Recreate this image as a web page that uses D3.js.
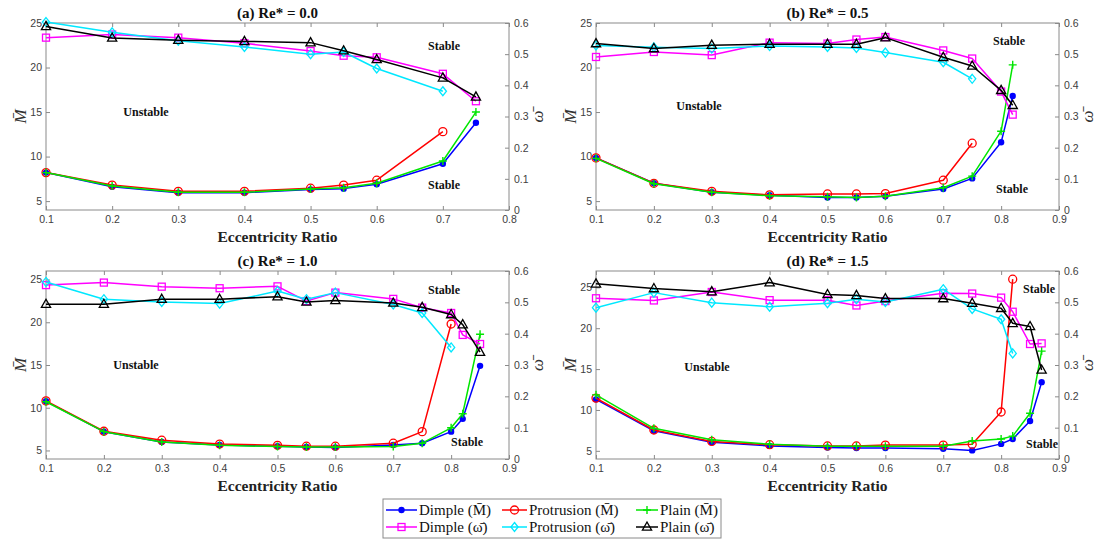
<!DOCTYPE html>
<html>
<head>
<meta charset="utf-8">
<script src="https://cdn.jsdelivr.net/npm/d3@7"></script>
<style>
  body { margin: 0; background: #fff; }
  svg { display: block; }
  .tick text { font-family: "Liberation Sans", Arial, sans-serif; font-size: 10.5px; fill: #404040; }
  .tick line { stroke: #8a8a8a; }
</style>
</head>
<body>
<svg id="fig" width="1102" height="540"></svg>
<script>
// ---- Eccentricity ratios (x) for each Reynolds number case ----
const eccA = [0.1, 0.2, 0.3, 0.4, 0.5, 0.55, 0.6, 0.7, 0.75];
const eccAPro = [0.1, 0.2, 0.3, 0.4, 0.5, 0.55, 0.6, 0.7];
const eccB = [0.1, 0.2, 0.3, 0.4, 0.5, 0.55, 0.6, 0.7, 0.75, 0.8, 0.82];
const eccBPro = [0.1, 0.2, 0.3, 0.4, 0.5, 0.55, 0.6, 0.7, 0.75];
const eccC = [0.1, 0.2, 0.3, 0.4, 0.5, 0.55, 0.6, 0.7, 0.75, 0.8, 0.82, 0.85];
const eccCPro = [0.1, 0.2, 0.3, 0.4, 0.5, 0.55, 0.6, 0.7, 0.75, 0.8];
const eccD = [0.1, 0.2, 0.3, 0.4, 0.5, 0.55, 0.6, 0.7, 0.75, 0.8, 0.82, 0.85, 0.87];
const eccDPro = [0.1, 0.2, 0.3, 0.4, 0.5, 0.55, 0.6, 0.7, 0.75, 0.8, 0.82];

// ---- Critical mass (M bar), left axis ----
const dimpleM_A = [8.2, 6.6, 5.95, 5.95, 6.3, 6.4, 6.9, 9.2, 13.8];
const protM_A   = [8.2, 6.8, 6.1, 6.1, 6.45, 6.8, 7.35, 12.8];
const plainM_A  = [8.2, 6.7, 6.0, 6.0, 6.35, 6.5, 7.0, 9.5, 15.0];

const dimpleM_B = [9.85, 7.0, 6.0, 5.65, 5.4, 5.4, 5.55, 6.35, 7.55, 11.6, 16.8];
const protM_B   = [9.85, 7.0, 6.1, 5.7, 5.8, 5.8, 5.85, 7.35, 11.5];
const plainM_B  = [9.8, 6.95, 6.0, 5.6, 5.5, 5.4, 5.55, 6.5, 7.8, 12.85, 20.3];

const dimpleM_C = [10.75, 7.2, 6.0, 5.65, 5.5, 5.4, 5.35, 5.65, 5.85, 7.2, 8.7, 14.9];
const protM_C   = [10.8, 7.25, 6.2, 5.75, 5.6, 5.5, 5.5, 5.85, 7.2, 19.8];
const plainM_C  = [10.7, 7.2, 6.0, 5.6, 5.45, 5.4, 5.4, 5.45, 5.85, 7.65, 9.3, 18.6];

const dimpleM_D = [11.3, 7.45, 6.05, 5.6, 5.4, 5.35, 5.35, 5.25, 5.05, 5.85, 6.45, 8.65, 13.4];
const protM_D   = [11.45, 7.55, 6.15, 5.75, 5.6, 5.6, 5.7, 5.7, 5.8, 9.75, 26.0];
const plainM_D  = [11.85, 7.75, 6.35, 5.8, 5.55, 5.55, 5.55, 5.55, 6.2, 6.45, 6.8, 9.6, 17.2];

// ---- Whirl frequency ratio (omega bar), right axis ----
const dimpleW_A = [0.553, 0.563, 0.553, 0.535, 0.510, 0.495, 0.490, 0.437, 0.349];
const protW_A   = [0.603, 0.570, 0.543, 0.523, 0.500, 0.507, 0.454, 0.381];
const plainW_A  = [0.589, 0.552, 0.545, 0.541, 0.537, 0.511, 0.483, 0.424, 0.363];

const dimpleW_B = [0.491, 0.507, 0.497, 0.537, 0.534, 0.547, 0.555, 0.512, 0.486, 0.380, 0.306];
const protW_B   = [0.528, 0.522, 0.518, 0.526, 0.523, 0.520, 0.505, 0.474, 0.421];
const plainW_B  = [0.534, 0.518, 0.529, 0.532, 0.532, 0.532, 0.553, 0.490, 0.462, 0.384, 0.336];

const dimpleW_C = [0.555, 0.563, 0.550, 0.545, 0.551, 0.504, 0.531, 0.511, 0.483, 0.466, 0.396, 0.367];
const protW_C   = [0.565, 0.510, 0.501, 0.496, 0.536, 0.510, 0.531, 0.493, 0.466, 0.356];
const plainW_C  = [0.494, 0.494, 0.510, 0.510, 0.518, 0.501, 0.506, 0.498, 0.484, 0.461, 0.429, 0.341];

const dimpleW_D = [0.513, 0.506, 0.533, 0.507, 0.507, 0.490, 0.504, 0.529, 0.528, 0.515, 0.470, 0.367, 0.369];
const protW_D   = [0.483, 0.531, 0.499, 0.486, 0.497, 0.510, 0.501, 0.542, 0.479, 0.446, 0.337];
const plainW_D  = [0.559, 0.544, 0.534, 0.563, 0.525, 0.522, 0.512, 0.512, 0.497, 0.481, 0.433, 0.423, 0.284];

// ---- Tick labels ----
const xTicksShort = [0.1, 0.2, 0.3, 0.4, 0.5, 0.6, 0.7, 0.8];
const xTicksLong  = [0.1, 0.2, 0.3, 0.4, 0.5, 0.6, 0.7, 0.8, 0.9];
const mTicks = [5, 10, 15, 20, 25];
const wTicks = [0, 0.1, 0.2, 0.3, 0.4, 0.5, 0.6];

const titles = ["(a) Re* = 0.0", "(b) Re* = 0.5", "(c) Re* = 1.0", "(d) Re* = 1.5"];
const seriesNames = ["Dimple (M̄)", "Protrusion (M̄)", "Plain (M̄)", "Dimple (ω̄)", "Protrusion (ω̄)", "Plain (ω̄)"];

// ---- Styles ----
const styles = {
  dimpleM: { color: "#0000ff", marker: "dot" },
  protM:   { color: "#ff0000", marker: "circle" },
  plainM:  { color: "#00e600", marker: "plus" },
  dimpleW: { color: "#ff00ff", marker: "square" },
  protW:   { color: "#00e8ff", marker: "diamond" },
  plainW:  { color: "#000000", marker: "triangle" }
};

const panels = [
  { title: titles[0], box: [46, 509, 23, 210], xDom: [0.1, 0.8], xTicks: xTicksShort, mDom: [4, 25],
    M: [[eccA, dimpleM_A, "dimpleM"], [eccAPro, protM_A, "protM"], [eccA, plainM_A, "plainM"]],
    W: [[eccA, dimpleW_A, "dimpleW"], [eccAPro, protW_A, "protW"], [eccA, plainW_A, "plainW"]],
    notes: [["Unstable", 146, 112], ["Stable", 444, 46], ["Stable", 444, 185]] },
  { title: titles[1], box: [596, 1059, 23, 210], xDom: [0.1, 0.9], xTicks: xTicksLong, mDom: [4, 25],
    M: [[eccB, dimpleM_B, "dimpleM"], [eccBPro, protM_B, "protM"], [eccB, plainM_B, "plainM"]],
    W: [[eccB, dimpleW_B, "dimpleW"], [eccBPro, protW_B, "protW"], [eccB, plainW_B, "plainW"]],
    notes: [["Unstable", 699, 106], ["Stable", 1009, 41], ["Stable", 1012, 189]] },
  { title: titles[2], box: [46, 509, 271, 459], xDom: [0.1, 0.9], xTicks: xTicksLong, mDom: [4, 26],
    M: [[eccC, dimpleM_C, "dimpleM"], [eccCPro, protM_C, "protM"], [eccC, plainM_C, "plainM"]],
    W: [[eccC, dimpleW_C, "dimpleW"], [eccCPro, protW_C, "protW"], [eccC, plainW_C, "plainW"]],
    notes: [["Unstable", 136, 365], ["Stable", 444, 290], ["Stable", 467, 442]] },
  { title: titles[3], box: [596, 1059, 271, 459], xDom: [0.1, 0.9], xTicks: xTicksLong, mDom: [4, 27],
    M: [[eccD, dimpleM_D, "dimpleM"], [eccDPro, protM_D, "protM"], [eccD, plainM_D, "plainM"]],
    W: [[eccD, dimpleW_D, "dimpleW"], [eccDPro, protW_D, "protW"], [eccD, plainW_D, "plainW"]],
    notes: [["Unstable", 707, 367], ["Stable", 1039, 289], ["Stable", 1042, 444]] }
];

const svg = d3.select("#fig");
svg.append("rect").attr("width", 1102).attr("height", 540).attr("fill", "#fff");

const SERIF = "'Liberation Serif', 'Times New Roman', serif";

function drawMarker(g, type, color, cx, cy) {
  switch (type) {
    case "dot":
      g.append("circle").attr("cx", cx).attr("cy", cy).attr("r", 3.2).attr("fill", color);
      break;
    case "circle":
      g.append("circle").attr("cx", cx).attr("cy", cy).attr("r", 4).attr("fill", "none")
        .attr("stroke", color).attr("stroke-width", 1.3);
      break;
    case "plus":
      g.append("path").attr("d", `M${cx - 4},${cy}H${cx + 4}M${cx},${cy - 4}V${cy + 4}`)
        .attr("stroke", color).attr("stroke-width", 1.4);
      break;
    case "square":
      g.append("rect").attr("x", cx - 3.5).attr("y", cy - 3.5).attr("width", 7).attr("height", 7)
        .attr("fill", "none").attr("stroke", color).attr("stroke-width", 1.3);
      break;
    case "diamond":
      g.append("path").attr("d", `M${cx},${cy - 4.5}L${cx + 3.6},${cy}L${cx},${cy + 4.5}L${cx - 3.6},${cy}Z`)
        .attr("fill", "none").attr("stroke", color).attr("stroke-width", 1.3);
      break;
    case "triangle":
      g.append("path").attr("d", `M${cx},${cy - 5}L${cx + 4.6},${cy + 3.2}L${cx - 4.6},${cy + 3.2}Z`)
        .attr("fill", "none").attr("stroke", color).attr("stroke-width", 1.3);
      break;
  }
}

function drawSeries(g, xs, ys, key, x, y) {
  const st = styles[key];
  const pts = xs.map((d, i) => [d, ys[i]]);
  const line = d3.line().x(d => x(d[0])).y(d => y(d[1]));
  g.append("path").attr("d", line(pts)).attr("fill", "none")
    .attr("stroke", st.color).attr("stroke-width", 1.5).attr("stroke-linejoin", "round");
  pts.forEach(p => drawMarker(g, st.marker, st.color, x(p[0]), y(p[1])));
}

const fmt1 = d => d === 0 ? "0" : d.toFixed(1);

panels.forEach(p => {
  const [x0, x1, y0, y1] = p.box;
  const g = svg.append("g");
  const x = d3.scaleLinear().domain(p.xDom).range([x0, x1]);
  const yM = d3.scaleLinear().domain(p.mDom).range([y1, y0]);
  const yW = d3.scaleLinear().domain([0, 0.6]).range([y1, y0]);

  // axes (ticks point inward)
  const ax = g.append("g").attr("transform", `translate(0,${y1})`)
    .call(d3.axisBottom(x).tickValues(p.xTicks).tickFormat(fmt1).tickSizeInner(-4).tickSizeOuter(0).tickPadding(6));
  const axTop = g.append("g").attr("transform", `translate(0,${y0})`)
    .call(d3.axisTop(x).tickValues(p.xTicks).tickFormat("").tickSizeInner(-4).tickSizeOuter(0));
  const ayL = g.append("g").attr("transform", `translate(${x0},0)`)
    .call(d3.axisLeft(yM).tickValues(mTicks).tickSizeInner(-4).tickSizeOuter(0).tickPadding(4));
  const ayR = g.append("g").attr("transform", `translate(${x1},0)`)
    .call(d3.axisRight(yW).tickValues(wTicks).tickFormat(fmt1).tickSizeInner(-4).tickSizeOuter(0).tickPadding(5));
  [ax, axTop, ayL, ayR].forEach(a => a.select(".domain").remove());

  // plot box
  g.append("rect").attr("x", x0).attr("y", y0).attr("width", x1 - x0).attr("height", y1 - y0)
    .attr("fill", "none").attr("stroke", "#8a8a8a").attr("stroke-width", 1);

  // data
  p.M.forEach(s => drawSeries(g, s[0], s[1], s[2], x, yM));
  p.W.forEach(s => drawSeries(g, s[0], s[1], s[2], x, yW));

  // title
  g.append("text").attr("x", (x0 + x1) / 2).attr("y", y0 - 5).attr("text-anchor", "middle")
    .attr("font-family", SERIF).attr("font-weight", "bold").attr("font-size", 15).attr("fill", "#111")
    .text(p.title);

  // x label
  g.append("text").attr("x", (x0 + x1) / 2).attr("y", y1 + 32).attr("text-anchor", "middle")
    .attr("font-family", SERIF).attr("font-weight", "bold").attr("font-size", 15.5).attr("fill", "#222")
    .text("Eccentricity Ratio");

  // y labels
  const ym = (y0 + y1) / 2;
  g.append("text").attr("transform", `translate(${x0 - 26},${ym}) rotate(-90)`)
    .attr("text-anchor", "middle").attr("dominant-baseline", "central")
    .attr("font-family", SERIF).attr("font-style", "italic").attr("font-size", 17).attr("fill", "#333")
    .text("M̄");
  g.append("text").attr("transform", `translate(${x1 + 28},${ym}) rotate(-90)`)
    .attr("text-anchor", "middle").attr("dominant-baseline", "central")
    .attr("font-family", SERIF).attr("font-style", "italic").attr("font-size", 17).attr("fill", "#333")
    .text("ω̄");

  // region annotations
  p.notes.forEach(n => {
    g.append("text").attr("x", n[1]).attr("y", n[2]).attr("text-anchor", "middle")
      .attr("dominant-baseline", "central")
      .attr("font-family", SERIF).attr("font-weight", "bold").attr("font-size", 12).attr("fill", "#111")
      .text(n[0]);
  });
});

// ---- Legend ----
const lg = svg.append("g");
lg.append("rect").attr("x", 383).attr("y", 499).attr("width", 338).attr("height", 39)
  .attr("fill", "#fff").attr("stroke", "#8a8a8a").attr("stroke-width", 1);
const legendKeys = ["dimpleM", "protM", "plainM", "dimpleW", "protW", "plainW"];
const colLine = [[386, 417], [502, 527], [636, 658]];
const rowY = [510, 527];
legendKeys.forEach((k, i) => {
  const c = i % 3, r = Math.floor(i / 3);
  const [lx0, lx1] = colLine[c];
  const cy = rowY[r];
  const st = styles[k];
  lg.append("line").attr("x1", lx0).attr("x2", lx1).attr("y1", cy).attr("y2", cy)
    .attr("stroke", st.color).attr("stroke-width", 1.5);
  drawMarker(lg, st.marker, st.color, (lx0 + lx1) / 2, cy);
  lg.append("text").attr("x", lx1 + 2).attr("y", cy).attr("dominant-baseline", "central")
    .attr("font-family", SERIF).attr("font-size", 15).attr("fill", "#111")
    .text(seriesNames[i]);
});
</script>
</body>
</html>
